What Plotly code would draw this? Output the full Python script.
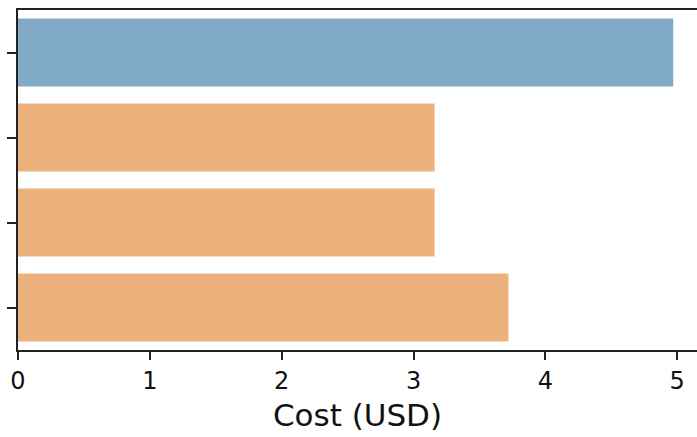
import plotly.graph_objects as go

# Cost per option (USD); the first option is the reference, the rest are alternatives
options = ["Option A", "Option B", "Option C", "Option D"]
costs = [4.97, 3.16, 3.16, 3.72]
groups = ["reference", "alternative", "alternative", "alternative"]

group_colors = {"reference": "#81AAC7", "alternative": "#EDB17E"}
bar_colors = [group_colors[g] for g in groups]

fig = go.Figure(
    go.Bar(
        x=costs,
        y=options,
        orientation="h",
        width=0.8,
        marker=dict(color=bar_colors, line=dict(width=0)),
    )
)

fig.update_layout(
    width=697,
    height=437,
    margin=dict(l=18, r=0, t=10, b=87),
    plot_bgcolor="white",
    paper_bgcolor="white",
    showlegend=False,
    font=dict(family="DejaVu Sans", color="#111111"),
)

fig.update_xaxes(
    range=[0, 5.15],
    tickvals=[0, 1, 2, 3, 4, 5],
    ticks="outside",
    ticklen=8,
    tickwidth=1.6,
    tickcolor="#222222",
    showline=True,
    linecolor="#222222",
    linewidth=2,
    mirror=True,
    showgrid=False,
    zeroline=False,
    tickfont=dict(size=24),
    title=dict(text="Cost (USD)", font=dict(size=31), standoff=11),
)

fig.update_yaxes(
    categoryorder="array",
    categoryarray=options,
    autorange="reversed",
    ticks="outside",
    ticklen=9,
    tickwidth=1.6,
    tickcolor="#222222",
    showticklabels=False,
    showline=True,
    linecolor="#222222",
    linewidth=2,
    showgrid=False,
    zeroline=False,
)

fig.write_html("out.html")
